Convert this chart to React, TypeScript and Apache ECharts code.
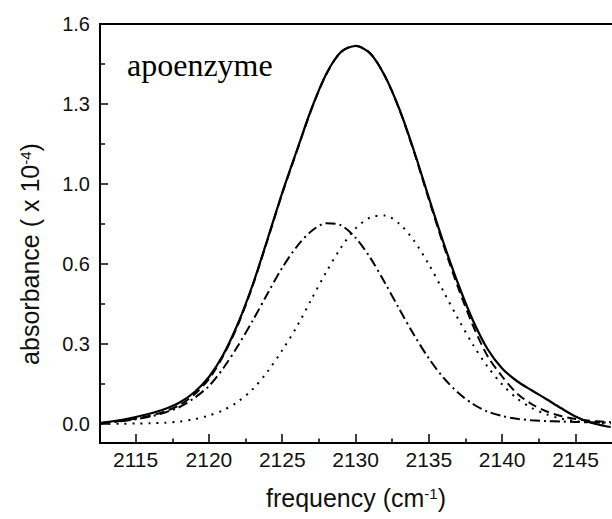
import React, { useEffect, useRef } from "react";
import * as echarts from "echarts";

// frequency grid (cm^-1)
const FREQ = [
  2112.6, 2113, 2114, 2115, 2116, 2117, 2118, 2119, 2120, 2121, 2122, 2123,
  2124, 2125, 2126, 2127, 2128, 2129, 2130, 2131, 2132, 2133, 2134, 2135,
  2136, 2137, 2138, 2139, 2140, 2141, 2142, 2143, 2144, 2145, 2146, 2147,
  2147.4,
];

// measured spectrum (solid)
const MEASURED = [
  0.004, 0.007, 0.016, 0.028, 0.042, 0.06, 0.086, 0.127, 0.188, 0.28, 0.405,
  0.56, 0.74, 0.925, 1.095, 1.262, 1.4, 1.488, 1.512, 1.482, 1.392, 1.258,
  1.09, 0.905, 0.725, 0.56, 0.415, 0.3, 0.222, 0.172, 0.135, 0.1, 0.064,
  0.03, 0.006, -0.008, -0.012,
];

// fitted sum (dashed)
const FIT = [
  0.004, 0.006, 0.012, 0.021, 0.033, 0.05, 0.076, 0.118, 0.18, 0.275, 0.4,
  0.556, 0.737, 0.922, 1.092, 1.26, 1.398, 1.487, 1.513, 1.483, 1.392, 1.256,
  1.086, 0.898, 0.715, 0.545, 0.395, 0.272, 0.19, 0.123, 0.08, 0.051, 0.032,
  0.02, 0.013, 0.009, 0.008,
];

// low-frequency component (dash-dot)
const PEAK_LOW = [
  0.004, 0.006, 0.011, 0.019, 0.03, 0.046, 0.068, 0.104, 0.152, 0.225, 0.315,
  0.415, 0.522, 0.625, 0.71, 0.772, 0.803, 0.795, 0.745, 0.665, 0.565, 0.458,
  0.355, 0.262, 0.185, 0.125, 0.08, 0.05, 0.032, 0.021, 0.015, 0.012, 0.01,
  0.008, 0.007, 0.006, 0.006,
];

// high-frequency component (dotted)
const PEAK_HIGH = [
  0.0, 0.0, 0.001, 0.002, 0.003, 0.005, 0.01, 0.019, 0.034, 0.056, 0.09, 0.14,
  0.21, 0.295, 0.39, 0.5, 0.608, 0.705, 0.782, 0.826, 0.834, 0.8, 0.732,
  0.638, 0.53, 0.42, 0.318, 0.23, 0.158, 0.103, 0.065, 0.039, 0.022, 0.012,
  0.006, 0.003, 0.002,
];

const X_MAJOR = [2115, 2120, 2125, 2130, 2135, 2140, 2145];
const X_MINOR = [2117.5, 2122.5, 2127.5, 2132.5, 2137.5, 2142.5];
const Y_MAJOR = [0, 0.32, 0.64, 0.96, 1.28, 1.6];
const Y_MINOR = [0.16, 0.48, 0.8, 1.12, 1.44];

const X_MIN = 2112.57;
const X_MAX = 2147.49;
const Y_MIN = -0.076;
const Y_MAX = 1.6;

// plot frame layout (pixels)
const GRID_LEFT = 100;
const GRID_TOP = 24;
const GRID_RIGHT = -2;
const GRID_BOTTOM = 76;
const CHART_W = 612;
const CHART_H = 519;

const SANS = '"Liberation Sans", Arial, sans-serif';
const SERIF = '"Liberation Serif", "Times New Roman", serif';

function pairs(vals: number[]) {
  return FREQ.map((f, i) => [f, vals[i]]);
}

function lineOn() {
  return { show: true, onZero: false, lineStyle: { color: "#000", width: 2 } };
}
function lineOff() {
  return { show: false, onZero: false };
}
function ticks(values: number[], length: number) {
  return {
    show: true,
    inside: true,
    length,
    customValues: values,
    lineStyle: { color: "#000", width: 1.5 },
  };
}
function gridBox() {
  return { left: GRID_LEFT, top: GRID_TOP, right: GRID_RIGHT, bottom: GRID_BOTTOM };
}

export default function App() {
  const ref = useRef<HTMLDivElement>(null);
  useEffect(() => {
    if (!ref.current) return;
    const chart = echarts.init(ref.current, null, { renderer: "svg" });
    const plotBottom = CHART_H - GRID_BOTTOM;
    chart.setOption({
      animation: false,
      backgroundColor: "#fff",
      grid: [gridBox(), gridBox(), gridBox()],
      xAxis: [
        {
          type: "value",
          gridIndex: 0,
          min: X_MIN,
          max: X_MAX,
          position: "bottom",
          axisLine: lineOn(),
          axisTick: ticks(X_MAJOR, 9),
          axisLabel: {
            color: "#111",
            fontSize: 21,
            fontFamily: SANS,
            margin: 6,
            customValues: X_MAJOR,
            formatter: (v: number) => String(Math.round(v)),
          },
          splitLine: { show: false },
        },
        {
          type: "value",
          gridIndex: 1,
          min: X_MIN,
          max: X_MAX,
          position: "bottom",
          axisLine: lineOff(),
          axisTick: ticks(X_MINOR, 4.5),
          axisLabel: { show: false },
          splitLine: { show: false },
        },
        {
          type: "value",
          gridIndex: 2,
          min: X_MIN,
          max: X_MAX,
          position: "top",
          axisLine: lineOn(),
          axisTick: { show: false },
          axisLabel: { show: false },
          splitLine: { show: false },
        },
      ],
      yAxis: [
        {
          type: "value",
          gridIndex: 0,
          min: Y_MIN,
          max: Y_MAX,
          position: "left",
          axisLine: lineOn(),
          axisTick: ticks(Y_MAJOR, 8),
          axisLabel: {
            color: "#111",
            fontSize: 20,
            fontFamily: SANS,
            margin: 10,
            customValues: Y_MAJOR,
            formatter: (v: number) => v.toFixed(1),
          },
          splitLine: { show: false },
        },
        {
          type: "value",
          gridIndex: 1,
          min: Y_MIN,
          max: Y_MAX,
          position: "left",
          axisLine: lineOff(),
          axisTick: ticks(Y_MINOR, 5),
          axisLabel: { show: false },
          splitLine: { show: false },
        },
        {
          type: "value",
          gridIndex: 2,
          min: Y_MIN,
          max: Y_MAX,
          position: "right",
          show: false,
        },
      ],
      series: [
        {
          type: "line",
          name: "component 2",
          xAxisIndex: 0,
          yAxisIndex: 0,
          data: pairs(PEAK_HIGH),
          smooth: 0.3,
          symbol: "none",
          lineStyle: { color: "#000", width: 2, type: [2, 6] },
        },
        {
          type: "line",
          name: "component 1",
          xAxisIndex: 0,
          yAxisIndex: 0,
          data: pairs(PEAK_LOW),
          smooth: 0.3,
          symbol: "none",
          lineStyle: { color: "#000", width: 2, type: [10, 4, 2, 4] },
        },
        {
          type: "line",
          name: "fit",
          xAxisIndex: 0,
          yAxisIndex: 0,
          data: pairs(FIT),
          smooth: 0.3,
          symbol: "none",
          lineStyle: { color: "#000", width: 2, type: [9, 5] },
        },
        {
          type: "line",
          name: "measured",
          xAxisIndex: 0,
          yAxisIndex: 0,
          data: pairs(MEASURED),
          smooth: 0.3,
          symbol: "none",
          lineStyle: { color: "#000", width: 2.2, type: "solid" },
        },
      ],
      graphic: [
        {
          type: "rect",
          z: 100,
          silent: true,
          shape: { x: GRID_LEFT - 1, y: GRID_TOP - 1, width: 2, height: plotBottom - GRID_TOP + 2 },
          style: { fill: "#000" },
        },
        {
          type: "rect",
          z: 100,
          silent: true,
          shape: { x: GRID_LEFT - 1, y: GRID_TOP - 1, width: CHART_W - GRID_LEFT + 1, height: 2 },
          style: { fill: "#000" },
        },
        {
          type: "text",
          left: 127,
          top: 49,
          style: {
            text: "apoenzyme",
            font: `32px ${SERIF}`,
            fill: "#000",
          },
        },
        {
          type: "text",
          x: 356,
          y: 498,
          style: {
            text: "{a|frequency (cm}{s|-1}{a|)}",
            align: "center",
            verticalAlign: "middle",
            rich: {
              a: { fontSize: 25, fontFamily: SANS, fill: "#111" },
              s: { fontSize: 15, fontFamily: SANS, fill: "#111", verticalAlign: "top" },
            },
          },
        },
        {
          type: "group",
          x: 30,
          y: 254,
          rotation: Math.PI / 2,
          children: [
            {
              type: "text",
              x: 0,
              y: 0,
              style: {
                text: "{a|absorbance ( x 10}{s|-4}{a|)}",
                align: "center",
                verticalAlign: "middle",
                rich: {
                  a: { fontSize: 25, fontFamily: SANS, fill: "#111" },
                  s: { fontSize: 15, fontFamily: SANS, fill: "#111", verticalAlign: "top" },
                },
              },
            },
          ],
        },
      ],
    });
    return () => chart.dispose();
  }, []);
  return (
    <div
      ref={ref}
      style={{ position: "absolute", left: 0, top: 0, width: CHART_W, height: CHART_H }}
    />
  );
}
